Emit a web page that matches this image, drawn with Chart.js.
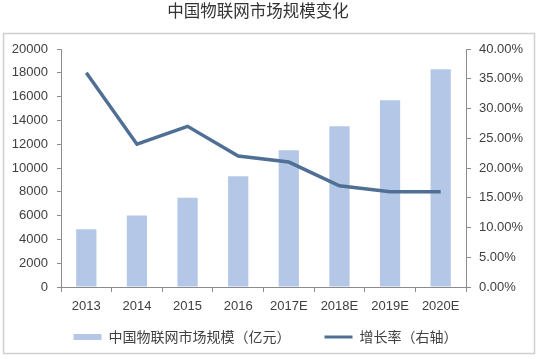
<!DOCTYPE html>
<html><head><meta charset="utf-8">
<script src="https://cdn.jsdelivr.net/npm/chart.js@4/dist/chart.umd.min.js"></script>
<style>html,body{margin:0;padding:0;background:#fff;}#wrap{width:544px;height:359px;}</style>
</head><body><div id="wrap"><canvas id="c" width="544" height="359"></canvas></div>
<script>
const categories = ['2013','2014','2015','2016','2017E','2018E','2019E','2020E'];
const marketSize = [4850, 6000, 7500, 9300, 11500, 13500, 15700, 18300];
const growthRate = [36, 24, 27, 22, 21, 17, 16, 16];
const titleText = '中国物联网市场规模变化';
const barLabel = '中国物联网市场规模（亿元）';
const lineLabel = '增长率（右轴）';

const BAR_COLOR = '#b4c7e7';
const LINE_COLOR = '#4f6f95';
const AXIS_COLOR = '#8c8c8c';
const TEXT_COLOR = '#404040';

const framePlugin = {
  id: 'frame',
  afterLayout(chart) {
    const lg = chart.legend;
    if (lg) {
      const h = lg.bottom - lg.top;
      lg.top = 296;
      lg.bottom = 296 + h;
    }
  },
  beforeDraw(chart) {
    const ctx = chart.ctx;
    ctx.save();
    ctx.fillStyle = '#fff';
    ctx.fillRect(0, 0, chart.width, chart.height);
    ctx.strokeStyle = '#d0d0d0';
    ctx.lineWidth = 1.5;
    ctx.strokeRect(3.5, 33.5, 531, 320);
    ctx.fillStyle = '#333';
    ctx.font = '16.5px "Noto Sans CJK SC"';
    ctx.textAlign = 'center';
    ctx.textBaseline = 'middle';
    ctx.fillText(titleText, 258, 11);
    ctx.restore();
  }
};

new Chart(document.getElementById('c'), {
  data: {
    labels: categories,
    datasets: [
      { type: 'line', label: lineLabel, data: growthRate, yAxisID: 'y1',
        borderColor: LINE_COLOR, backgroundColor: LINE_COLOR, borderWidth: 3.5,
        pointRadius: 0, tension: 0, order: 0 },
      { type: 'bar', label: barLabel, data: marketSize, yAxisID: 'y',
        backgroundColor: BAR_COLOR, borderWidth: 0,
        barPercentage: 0.8, categoryPercentage: 0.5, order: 1 }
    ]
  },
  options: {
    responsive: false,
    animation: false,
    devicePixelRatio: 1,
    layout: { padding: { left: 0, right: 13, top: 49, bottom: -13 } },
    plugins: {
      title: { display: false },
      tooltip: { enabled: false },
      legend: {
        position: 'bottom',
        labels: {
          usePointStyle: true,
          pointStyleWidth: 28,
          boxHeight: 6,
          padding: 34,
          color: TEXT_COLOR,
          font: { family: '"Noto Sans CJK SC"', size: 14 },
          generateLabels(chart) {
            return [
              { text: barLabel, pointStyle: 'rect', fillStyle: BAR_COLOR, strokeStyle: BAR_COLOR, lineWidth: 0, datasetIndex: 1, fontColor: TEXT_COLOR },
              { text: lineLabel, pointStyle: 'line', fillStyle: LINE_COLOR, strokeStyle: LINE_COLOR, lineWidth: 3, datasetIndex: 0, fontColor: TEXT_COLOR }
            ];
          }
        }
      }
    },
    scales: {
      x: {
        offset: true,
        grid: { display: true, drawOnChartArea: false, drawTicks: true, tickLength: 5, color: AXIS_COLOR, offset: true },
        border: { display: true, color: AXIS_COLOR, width: 1 },
        ticks: { color: TEXT_COLOR, font: { family: '"Liberation Sans"', size: 13 }, padding: 7, maxRotation: 0, autoSkip: false },
        afterFit(s) { s.height = 27; }
      },
      y: {
        position: 'left',
        min: 0, max: 20000,
        grid: { display: true, drawOnChartArea: false, drawTicks: true, tickLength: 4, color: AXIS_COLOR },
        border: { display: true, color: AXIS_COLOR, width: 1 },
        ticks: { stepSize: 2000, color: TEXT_COLOR, font: { family: '"Liberation Sans"', size: 13 }, padding: 9, callback: v => String(v) },
        afterFit(s) { s.width = 61; }
      },
      y1: {
        position: 'right',
        min: 0, max: 40,
        grid: { display: true, drawOnChartArea: false, drawTicks: true, tickLength: 5, color: AXIS_COLOR },
        border: { display: true, color: AXIS_COLOR, width: 1 },
        ticks: { stepSize: 5, color: TEXT_COLOR, font: { family: '"Liberation Sans"', size: 13 }, padding: 8, callback: v => v.toFixed(2) + '%' },
        afterFit(s) { s.width = 65; }
      }
    }
  },
  plugins: [framePlugin]
});
</script></body></html>
